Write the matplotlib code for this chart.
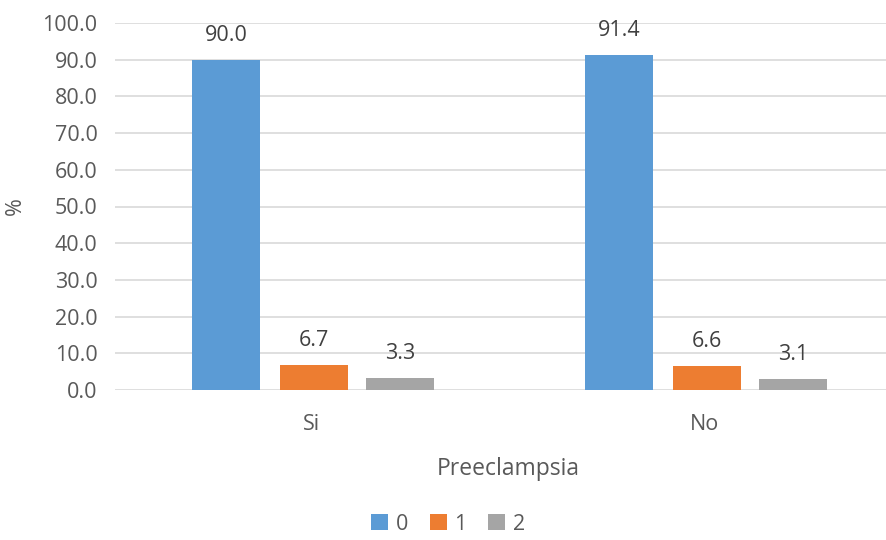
import numpy as np
import matplotlib.pyplot as plt

plt.rcParams["font.family"] = ["Open Sans", "DejaVu Sans"]

categories = ["Si", "No"]
series = ["0", "1", "2"]
values_0 = [90.0, 91.4]
values_1 = [6.7, 6.6]
values_2 = [3.3, 3.1]
colors = ["#5B9BD5", "#ED7D31", "#A5A5A5"]
text_color = "#595959"

fig = plt.figure(figsize=(8.87, 5.4), dpi=100)
ax = fig.add_axes([115.5 / 887, 1 - 390 / 540, 786 / 887, 367 / 540])

x = np.arange(len(categories))
width = 0.173
offsets = [-0.219, 0.004, 0.225]
all_vals = [values_0, values_1, values_2]

for vals, off, col, name in zip(all_vals, offsets, colors, series):
    bars = ax.bar(x + off, vals, width, color=col, label=name, zorder=3)
    for b, v in zip(bars, vals):
        ax.text(b.get_x() + b.get_width() / 2, v + 3.8, f"{v:.1f}",
                ha="center", va="bottom", fontsize=15.5, color="#404040")

ax.set_xlim(-0.5, 1.5)
ax.set_ylim(0, 100)
ax.set_yticks(np.arange(0, 101, 10))
ax.set_yticklabels([f"{t:.1f}" for t in np.arange(0, 101, 10)])
ax.set_xticks(x)
ax.set_xticklabels(categories)
ax.grid(axis="y", color="#D9D9D9", linewidth=1.2, zorder=0)
for s in ax.spines.values():
    s.set_visible(False)
ax.tick_params(length=0, labelsize=15.5, colors=text_color)
ax.tick_params(axis="y", pad=13)
ax.tick_params(axis="x", pad=17)

ax.set_ylabel("%", fontsize=15.5, color=text_color, labelpad=12)
ax.set_xlabel("Preeclampsia", fontsize=16.5, color=text_color, labelpad=16)

fig.legend(loc="lower center", bbox_to_anchor=(0.505, -0.026), ncol=3, frameon=False,
           fontsize=15.5, handlelength=0.8, handleheight=0.8, handletextpad=0.35,
           columnspacing=1.0, labelcolor=text_color)

fig.savefig("out.png", dpi=100)
